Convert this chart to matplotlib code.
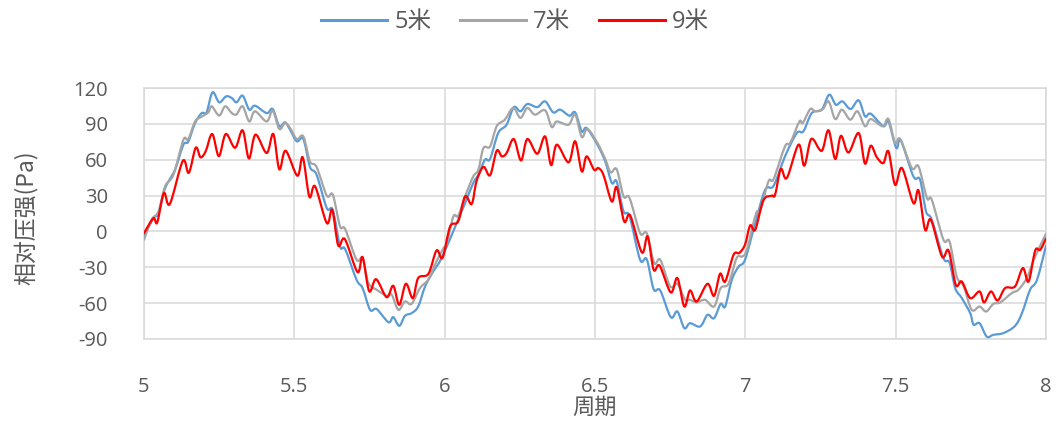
import matplotlib
matplotlib.use("Agg")
import matplotlib.pyplot as plt
import numpy as np
from matplotlib.path import Path
from matplotlib.patches import PathPatch
from matplotlib.lines import Line2D

plt.rcParams["font.family"] = ["Open Sans", "Noto Sans CJK SC", "DejaVu Sans"]
plt.rcParams["axes.unicode_minus"] = False

TEXT_COLOR = "#595959"
GRID_COLOR = "#D9D9D9"

# 5米 测点
x_5m = [5.0, 5.031, 5.048, 5.07, 5.103, 5.131, 5.147, 5.17, 5.192, 5.208,
        5.228, 5.25, 5.273, 5.292, 5.308, 5.328, 5.35, 5.369, 5.408, 5.428,
        5.45, 5.469, 5.486, 5.508, 5.53, 5.552, 5.574, 5.608, 5.628, 5.652,
        5.669, 5.707, 5.727, 5.752, 5.774, 5.813, 5.829, 5.849, 5.868, 5.89,
        5.912, 5.935, 5.962, 5.984, 6.012, 6.04, 6.068, 6.095, 6.112, 6.134,
        6.151, 6.178, 6.206, 6.23, 6.252, 6.275, 6.308, 6.334, 6.361, 6.384,
        6.415, 6.434, 6.456, 6.472, 6.508, 6.534, 6.556, 6.572, 6.595, 6.615,
        6.65, 6.672, 6.695, 6.717, 6.752, 6.774, 6.797, 6.816, 6.85, 6.874,
        6.896, 6.918, 6.933, 6.955, 6.978, 6.999, 7.033, 7.066, 7.094, 7.132,
        7.171, 7.193, 7.221, 7.254, 7.279, 7.301, 7.323, 7.35, 7.377, 7.398,
        7.417, 7.459, 7.476, 7.502, 7.517, 7.559, 7.581, 7.601, 7.62, 7.659,
        7.679, 7.698, 7.72, 7.748, 7.759, 7.779, 7.803, 7.825, 7.859, 7.897,
        7.92, 7.947, 7.97, 8.0]
y_5m = [-4, 11, 15, 36, 51.6, 72.6, 75, 90.7, 99, 99.6,
        116.4, 108, 113, 111.6, 108, 113.6, 101.9, 105.2, 99, 102.4,
        88, 91.3, 85, 75.4, 77.3, 53.9, 47.4, 19.5, 18, -12.6,
        -14.8, -40.5, -47.4, -65.6, -65, -76, -71.7, -79, -70.6, -68.4,
        -62.8, -46, -33.5, -25, -9.8, 7, 23.7, 40.5, 47.4, 60,
        60.6, 82.3, 89.3, 104, 100.5, 106.6, 104, 108.8, 99.6, 101.9,
        96.8, 99.6, 83.7, 86.5, 72.6, 58.6, 40.5, 41.9, 16.7, 12.6,
        -23.7, -23.2, -48.3, -49.4, -71.7, -67, -80.9, -76.8, -79.5, -69.8,
        -72.6, -60.6, -62.8, -40.5, -29.3, -23.7, 7, 34.9, 38.2, 62.8,
        82.3, 83.7, 99, 101.9, 114.4, 106, 108.8, 102.4, 109.7, 96.3,
        98.5, 88, 92, 69.8, 76.2, 46, 43.3, 16.7, 9.8, -22.3,
        -26, -47.4, -55.8, -68.4, -78, -76.8, -88, -86.5, -85, -79,
        -68.4, -48.8, -40.5, -12]

# 7米 测点
x_7m = [5.0, 5.025, 5.048, 5.07, 5.098, 5.131, 5.147, 5.17, 5.192, 5.214,
        5.225, 5.25, 5.27, 5.292, 5.308, 5.328, 5.35, 5.369, 5.408, 5.428,
        5.45, 5.469, 5.486, 5.508, 5.53, 5.552, 5.574, 5.608, 5.628, 5.652,
        5.669, 5.707, 5.727, 5.746, 5.774, 5.807, 5.824, 5.846, 5.868, 5.89,
        5.918, 5.946, 5.973, 5.996, 6.007, 6.029, 6.045, 6.068, 6.095, 6.112,
        6.129, 6.151, 6.173, 6.2, 6.228, 6.252, 6.275, 6.3, 6.334, 6.356,
        6.373, 6.412, 6.434, 6.456, 6.475, 6.508, 6.534, 6.552, 6.572, 6.595,
        6.615, 6.65, 6.672, 6.697, 6.717, 6.75, 6.774, 6.8, 6.816, 6.838,
        6.866, 6.896, 6.918, 6.944, 6.971, 6.99, 7.005, 7.036, 7.049, 7.077,
        7.094, 7.132, 7.149, 7.18, 7.191, 7.216, 7.232, 7.258, 7.277, 7.299,
        7.321, 7.349, 7.373, 7.398, 7.417, 7.457, 7.476, 7.498, 7.515, 7.554,
        7.576, 7.604, 7.62, 7.659, 7.679, 7.703, 7.726, 7.753, 7.779, 7.801,
        7.825, 7.848, 7.886, 7.908, 7.936, 7.964, 8.0]
y_7m = [-7, 9.8, 16.7, 37.7, 47.4, 76.7, 77, 92, 96, 99.6,
        104.7, 97, 104.7, 99, 98, 104.7, 92, 100.5, 92, 101,
        85.7, 90.7, 86.5, 77.3, 79.5, 58.6, 53.9, 29.9, 30.7, 4.2,
        2, -23.7, -22.3, -43, -48.8, -53.9, -53, -65.6, -58.6, -60.6,
        -47.4, -40, -25, -14, -9.8, 12.6, 13, 29.3, 46, 51.6,
        69.8, 71, 88, 93.5, 103.3, 95, 103.3, 97.7, 101.3, 87.4,
        92, 89.3, 97.7, 79, 85.7, 74, 60.6, 49.4, 52, 29.3,
        27.9, -1.4, -1.4, -26.5, -23.7, -46, -43.8, -57.2, -57.2, -59.4,
        -57.2, -62.8, -47.4, -43.8, -22.3, -21, -15.3, 15.3, 16.7, 41.9,
        43.8, 71.2, 74, 92, 90.7, 102.4, 100.5, 102.4, 108.8, 94,
        101.9, 93.5, 100.5, 88, 94, 88, 94, 74, 77.3, 53,
        54.4, 27.9, 26.5, -7, -8.4, -37.7, -46, -65.6, -62.8, -67,
        -60.6, -59.4, -51.6, -48.8, -39, -21, -2]

# 9米 测点
x_9m = [5.0, 5.031, 5.044, 5.066, 5.086, 5.129, 5.149, 5.172, 5.188, 5.205,
        5.227, 5.249, 5.272, 5.303, 5.328, 5.349, 5.371, 5.408, 5.43, 5.45,
        5.471, 5.51, 5.528, 5.55, 5.569, 5.608, 5.626, 5.646, 5.668, 5.71,
        5.727, 5.749, 5.772, 5.807, 5.829, 5.849, 5.871, 5.894, 5.912, 5.946,
        5.973, 5.993, 6.018, 6.045, 6.068, 6.09, 6.106, 6.129, 6.151, 6.173,
        6.19, 6.206, 6.23, 6.254, 6.275, 6.308, 6.334, 6.354, 6.373, 6.412,
        6.434, 6.456, 6.472, 6.497, 6.511, 6.528, 6.556, 6.572, 6.597, 6.617,
        6.656, 6.675, 6.695, 6.715, 6.752, 6.774, 6.797, 6.816, 6.838, 6.874,
        6.896, 6.916, 6.933, 6.961, 6.98, 6.999, 7.016, 7.033, 7.06, 7.088,
        7.099, 7.118, 7.138, 7.177, 7.196, 7.219, 7.247, 7.258, 7.277, 7.299,
        7.318, 7.343, 7.377, 7.398, 7.417, 7.437, 7.459, 7.476, 7.498, 7.521,
        7.559, 7.576, 7.598, 7.617, 7.654, 7.676, 7.7, 7.72, 7.748, 7.779,
        7.794, 7.817, 7.839, 7.864, 7.897, 7.923, 7.942, 7.964, 7.981, 8.0]
y_9m = [-1.5, 11, 7.5, 32, 23, 59, 49, 70, 62, 67,
        81.5, 63, 81.5, 70, 84.6, 61, 81, 65.6, 81.5, 52,
        67.5, 46.6, 62, 29, 37.7, 7, 18, -11.7, -6.4, -34,
        -21.5, -50, -40, -55, -45.5, -61.4, -43.8, -55.8, -39, -35.4,
        -15.9, -22, 4, 8.4, 29.3, 23, 42, 54, 47, 67.5,
        62.8, 65.6, 77.3, 59.4, 77.3, 65, 79.5, 55.5, 72.6, 57.8,
        75.4, 50.2, 62.8, 51.6, 53, 47.4, 25, 37, 8.4, 13.4,
        -17.6, -4.2, -32, -28.7, -51, -39, -62.8, -49.4, -58.6, -43.8,
        -53.9, -35.4, -41.9, -19.5, -18, -11, 5, 1.4, 26, 29.9,
        30.7, 52.2, 44.7, 72.6, 55, 77.3, 68.4, 69, 84.6, 60.6,
        80, 66, 82.3, 56.7, 71.7, 62.2, 57.2, 67, 39, 53,
        23.7, 34.3, 1.4, 9.8, -21, -16, -44.7, -41.9, -55.8, -50.2,
        -59.4, -50.2, -57.8, -47.4, -46, -30.7, -41.9, -16, -15.3, -6]

series = [
    ("5米", x_5m, y_5m, "#5B9BD5"),
    ("7米", x_7m, y_7m, "#A5A5A5"),
    ("9米", x_9m, y_9m, "#FF0000"),
]

x_ticks = [5, 5.5, 6, 6.5, 7, 7.5, 8]
x_tick_labels = ["5", "5.5", "6", "6.5", "7", "7.5", "8"]
y_ticks = [-90, -60, -30, 0, 30, 60, 90, 120]


def smooth_path(xs, ys):
    # 平滑折线：Catmull-Rom 转三次贝塞尔
    pts = np.column_stack([xs, ys]).astype(float)
    n = len(pts)
    verts = [pts[0]]
    codes = [Path.MOVETO]
    for i in range(n - 1):
        p0 = pts[max(i - 1, 0)]
        p1 = pts[i]
        p2 = pts[i + 1]
        p3 = pts[min(i + 2, n - 1)]
        verts += [p1 + (p2 - p0) / 6, p2 - (p3 - p1) / 6, p2]
        codes += [Path.CURVE4] * 3
    return Path(verts, codes)


fig = plt.figure(figsize=(10.6, 4.21), dpi=100)
ax = fig.add_axes([144 / 1060, 1 - 339 / 421, 902 / 1060, 251 / 421])

handles = []
for name, xs, ys, color in series:
    patch = PathPatch(smooth_path(xs, ys), facecolor="none", edgecolor=color,
                      linewidth=1.6, capstyle="round", joinstyle="round", zorder=3)
    ax.add_patch(patch)
    handles.append(Line2D([], [], color=color, linewidth=2.2, label=name))

ax.set_xlim(5, 8)
ax.set_ylim(-90, 120)
ax.set_xticks(x_ticks)
ax.set_xticklabels(x_tick_labels)
ax.set_yticks(y_ticks)
ax.grid(True, color=GRID_COLOR, linewidth=1.1)
ax.set_axisbelow(True)
for side in ["left", "right", "top", "bottom"]:
    ax.spines[side].set_color(GRID_COLOR)
    ax.spines[side].set_linewidth(1.1)

ax.tick_params(axis="both", length=0, labelsize=14.5, labelcolor=TEXT_COLOR)
ax.tick_params(axis="x", pad=27)
ax.tick_params(axis="y", pad=26)

ax.set_xlabel("周期", fontsize=16, color=TEXT_COLOR, family=["Noto Sans CJK SC"])
ax.xaxis.set_label_coords(0.5, -(396 - 339) / 251)
ax.set_ylabel("相对压强(Pa)", fontsize=16.5, color=TEXT_COLOR,
              family=["Noto Sans CJK SC"])
ax.yaxis.set_label_coords(-(144 - 38) / 902, (339 - 218) / 251)

fig.legend(handles=handles, loc="center", bbox_to_anchor=(515 / 1060, 1 - 22 / 421),
           ncol=3, frameon=False, fontsize=17, labelcolor=TEXT_COLOR,
           handlelength=2.8, handletextpad=0.3, columnspacing=1.2)

fig.savefig("out.png", dpi=100)
